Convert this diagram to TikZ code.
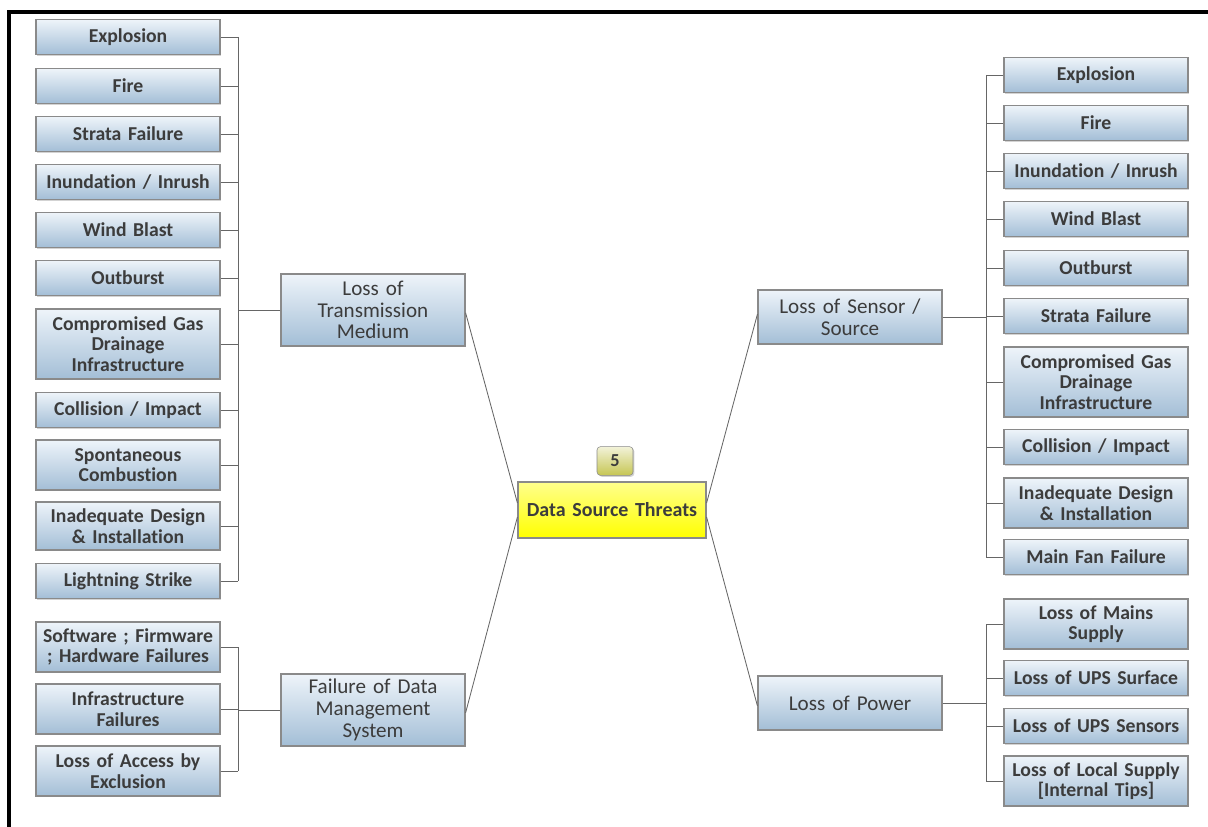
\documentclass[tikz,border=0pt]{standalone}
\usepackage{fontspec}
\setmainfont{Carlito}[Ligatures=NoCommon]
\usetikzlibrary{shadows}
\definecolor{txtgray}{HTML}{3C3C3C}
\definecolor{boxtop}{HTML}{EEF4FA}
\definecolor{boxbot}{HTML}{A3BED6}
\definecolor{boxline}{HTML}{8A8A8A}
\tikzset{
  leaf/.style={draw=boxline,line width=0.8pt,top color=boxtop,bottom color=boxbot,
    minimum width=4.6cm,text width=4.5cm,align=center,inner sep=1pt,
    font=\fontsize{14}{14.6}\selectfont\bfseries,text=txtgray,
    drop shadow={shadow xshift=1pt,shadow yshift=-1pt,opacity=0.35}},
  branch/.style={leaf,font=\fontsize{15}{15.4}\selectfont},
  hub/.style={leaf,top color=yellow!45,bottom color=yellow,minimum width=4.7cm,
    minimum height=1.4cm,font=\fontsize{14.2}{16}\selectfont\bfseries},
  badge/.style={draw=boxline,rounded corners=2.5pt,top color=white!90!olive,
    bottom color=olive!45,minimum width=0.9cm,minimum height=0.72cm,
    font=\fontsize{13}{15}\selectfont\bfseries,text=txtgray,
    drop shadow={shadow xshift=1pt,shadow yshift=-1pt,opacity=0.35}},
  link/.style={draw=gray!80!black,line width=0.6pt}
}
\begin{document}
\begin{tikzpicture}[x=0.025cm,y=-0.025cm]
\useasboundingbox (0,0) rectangle (1208,827);
% frame
\draw[line width=2.2pt] (9,827) -- (9,12) -- (1208,12);

% centre
\node[hub] (dst) at (612,510) {Data Source Threats};
\node[badge] (num) at (615,461) {5};

% branches
\node[branch,minimum height=1.8cm] (tm) at (373,310) {Loss of\\Transmission\\Medium};
\node[branch,minimum height=1.8cm] (dm) at (373,710) {Failure of Data\\Management\\System};
\node[branch,minimum height=1.35cm] (ss) at (850,317) {Loss of Sensor /\\Source};
\node[branch,minimum height=1.35cm] (pw) at (850,703) {Loss of Power};

% left leaves
\node[leaf,minimum height=0.875cm] (l1) at (128,37) {Explosion};
\node[leaf,minimum height=0.875cm] (l2) at (128,86) {Fire};
\node[leaf,minimum height=0.875cm] (l3) at (128,134) {Strata Failure};
\node[leaf,minimum height=0.875cm] (l4) at (128,182) {Inundation / Inrush};
\node[leaf,minimum height=0.875cm] (l5) at (128,230) {Wind Blast};
\node[leaf,minimum height=0.875cm] (l6) at (128,278) {Outburst};
\node[leaf,minimum height=1.75cm] (l7) at (128,344) {Compromised Gas\\Drainage\\Infrastructure};
\node[leaf,minimum height=0.875cm] (l8) at (128,410) {Collision / Impact};
\node[leaf,minimum height=1.25cm] (l9) at (128,465) {Spontaneous\\Combustion};
\node[leaf,minimum height=1.2cm] (l10) at (128,526) {Inadequate Design\\\& Installation};
\node[leaf,minimum height=0.875cm] (l11) at (128,581) {Lightning Strike};

\node[leaf,minimum height=1.25cm] (d1) at (128,647) {Software ; Firmware\\; Hardware Failures};
\node[leaf,minimum height=1.25cm] (d2) at (128,709) {Infrastructure\\Failures};
\node[leaf,minimum height=1.25cm] (d3) at (128,771) {Loss of Access by\\Exclusion};

% right leaves
\node[leaf,minimum height=0.875cm] (r1) at (1096,75) {Explosion};
\node[leaf,minimum height=0.875cm] (r2) at (1096,123) {Fire};
\node[leaf,minimum height=0.875cm] (r3) at (1096,171) {Inundation / Inrush};
\node[leaf,minimum height=0.875cm] (r4) at (1096,219) {Wind Blast};
\node[leaf,minimum height=0.875cm] (r5) at (1096,268) {Outburst};
\node[leaf,minimum height=0.875cm] (r6) at (1096,316) {Strata Failure};
\node[leaf,minimum height=1.75cm] (r7) at (1096,382) {Compromised Gas\\Drainage\\Infrastructure};
\node[leaf,minimum height=0.875cm] (r8) at (1096,447) {Collision / Impact};
\node[leaf,minimum height=1.25cm] (r9) at (1096,503) {Inadequate Design\\\& Installation};
\node[leaf,minimum height=0.875cm] (r10) at (1096,557) {Main Fan Failure};

\node[leaf,minimum height=1.25cm] (p1) at (1096,624) {Loss of Mains\\Supply};
\node[leaf,minimum height=0.875cm] (p2) at (1096,678) {Loss of UPS Surface};
\node[leaf,minimum height=0.875cm] (p3) at (1096,726) {Loss of UPS Sensors};
\node[leaf,minimum height=1.25cm] (p4) at (1096,781) {Loss of Local Supply\\{[Internal Tips]}};

% hub links
\draw[link] ([yshift=-2pt]tm.east) -- ([yshift=5pt]dst.west);
\draw[link] ([yshift=-2pt]dm.east) -- ([yshift=-5pt]dst.west);
\draw[link] ([yshift=2pt]ss.west) -- ([yshift=5pt]dst.east);
\draw[link] ([yshift=-2pt]pw.west) -- ([yshift=-5pt]dst.east);

% brackets
\coordinate (bl) at (238,310);
\coordinate (bd) at (238,710);
\coordinate (br) at (986,317);
\coordinate (bp) at (986,703);
\draw[link] (tm.west) -- (bl);
\draw[link] (dm.west) -- (bd);
\draw[link] (ss.east) -- (br);
\draw[link] (pw.east) -- (bp);
\draw[link] (l1.east -| bl) -- (l11.east -| bl);
\draw[link] (d1.east -| bd) -- (d3.east -| bd);
\draw[link] (r1.west -| br) -- (r10.west -| br);
\draw[link] (p1.west -| bp) -- (p4.west -| bp);
\foreach \i in {1,...,11} \draw[link] (l\i.east) -- (l\i.east -| bl);
\foreach \i in {1,2,3} \draw[link] (d\i.east) -- (d\i.east -| bd);
\foreach \i in {1,...,10} \draw[link] (r\i.west) -- (r\i.west -| br);
\foreach \i in {1,...,4} \draw[link] (p\i.west) -- (p\i.west -| bp);

\end{tikzpicture}
\end{document}
